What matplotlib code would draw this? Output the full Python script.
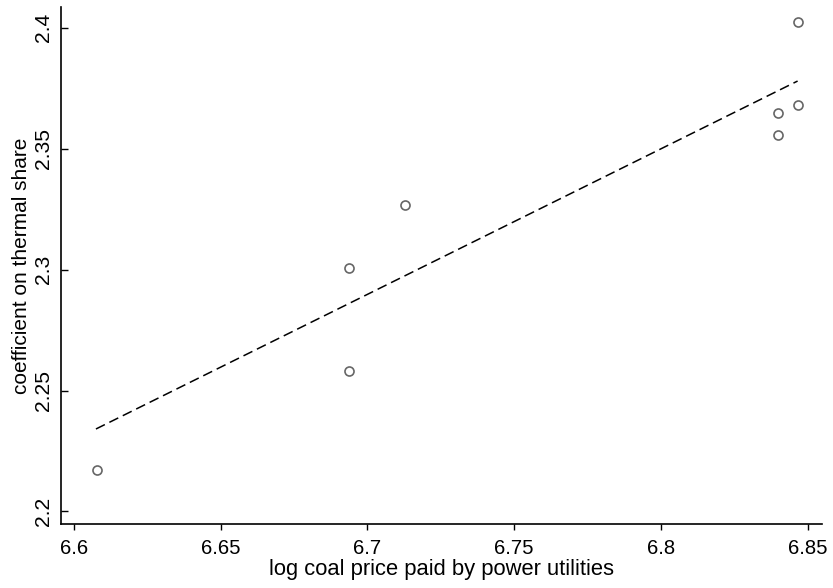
import numpy as np
import matplotlib
matplotlib.use('Agg')
import matplotlib.pyplot as plt

plt.rcParams['font.family'] = ['Liberation Sans', 'DejaVu Sans']

# points
log_coal_price = [6.6077, 6.6938, 6.6938, 6.7129, 6.8400, 6.8400, 6.8468, 6.8468]
thermal_coef = [2.2173, 2.3008, 2.2582, 2.3269, 2.3646, 2.3556, 2.3681, 2.4026]

# fitted line end points
fit_x = [6.6075, 6.8466]
fit_y = [2.2341, 2.3780]

x_ticks = [6.6, 6.65, 6.7, 6.75, 6.8, 6.85]
x_tick_labels = ['6.6', '6.65', '6.7', '6.75', '6.8', '6.85']
y_ticks = [2.2, 2.25, 2.3, 2.35, 2.4]
y_tick_labels = ['2.2', '2.25', '2.3', '2.35', '2.4']

fig = plt.figure(figsize=(8.33, 5.88), dpi=100)
ax = fig.add_axes([0.0729, 0.1088, 0.9135, 0.8788])

ax.plot(log_coal_price, thermal_coef, 'o', markersize=6.5, markerfacecolor='none',
        markeredgecolor='#666666', markeredgewidth=1.2)
ax.plot(fit_x, fit_y, color='black', linewidth=1.1, dashes=(6.5, 3.3))

ax.set_xlim(6.5955, 6.8548)
ax.set_ylim(2.1948, 2.4085)

ax.spines['top'].set_visible(False)
ax.spines['right'].set_visible(False)
ax.spines['left'].set_linewidth(1.2)
ax.spines['bottom'].set_linewidth(1.2)

ax.set_xticks(x_ticks)
ax.set_xticklabels(x_tick_labels, fontsize=14.6)
ax.set_yticks(y_ticks)
ax.set_yticklabels(y_tick_labels, fontsize=15.2, rotation=90, va='center')
ax.tick_params(axis='x', direction='out', length=4.5, width=1.0, pad=6)
ax.tick_params(axis='y', direction='in', length=5, width=1.0, pad=5.5)

ax.set_xlabel('log coal price paid by power utilities', fontsize=15.8, labelpad=1)
ax.set_ylabel('coefficient on thermal share', fontsize=15, labelpad=2)

fig.savefig('out.png', dpi=100)
